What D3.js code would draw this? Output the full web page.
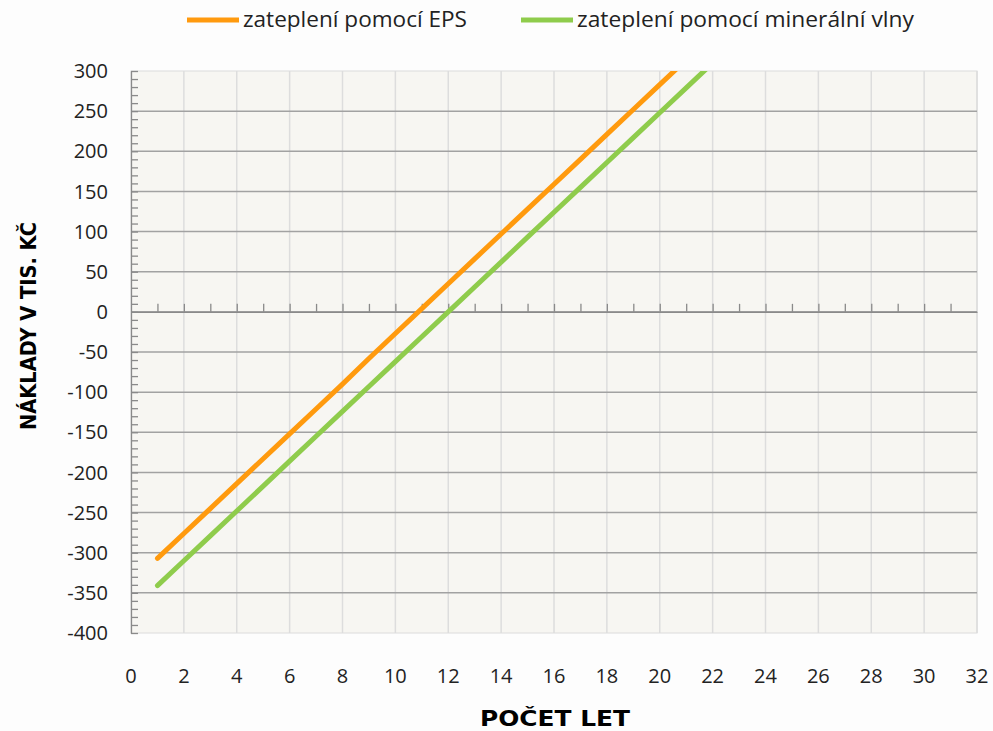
<!DOCTYPE html>
<html>
<head>
<meta charset="utf-8">
<script src="https://cdn.jsdelivr.net/npm/d3@7"></script>
<style>
  body { margin: 0; background: #fdfdfd; }
  svg { display: block; }
</style>
</head>
<body>
<svg id="chart" width="993" height="731"></svg>
<script>
// years 1..n
var years = [1, 2, 3, 4, 5, 6, 7, 8, 9, 10, 11, 12, 13, 14, 15, 16, 17, 18, 19, 20, 21, 22];
var epsValues = [-307, -276, -245, -214, -183, -152, -121, -90, -58, -27, 4, 35, 66, 97, 128, 159, 190, 221, 252, 283, 314, 345];
var mineralValues = [-341, -310, -279, -248, -217, -186, -155, -124, -93, -62, -31, 0, 31, 62, 93, 124, 155, 186, 217, 248, 279, 310];
var seriesNames = ["zateplení pomocí EPS", "zateplení pomocí minerální vlny"];
var seriesColors = ["#ff9a0e", "#8fcc4c"];
var yTicks = [300, 250, 200, 150, 100, 50, 0, -50, -100, -150, -200, -250, -300, -350, -400];
var xTicks = [0, 2, 4, 6, 8, 10, 12, 14, 16, 18, 20, 22, 24, 26, 28, 30, 32];

var svg = d3.select("#chart");
var plotLeft = 131, plotRight = 977, plotTop = 71, plotBottom = 633;

var x = d3.scaleLinear().domain([0, 32]).range([plotLeft, plotRight]);
var y = d3.scaleLinear().domain([-400, 300]).range([plotBottom, plotTop]);

// plot background
svg.append("rect")
	.attr("x", plotLeft).attr("y", plotTop)
	.attr("width", plotRight - plotLeft).attr("height", plotBottom - plotTop)
	.attr("fill", "#f7f6f2")
	.attr("stroke", "#dcdcdc");

// vertical grid
svg.append("g").selectAll("line")
	.data(xTicks.slice(1))
	.enter().append("line")
	.attr("x1", function(d) { return x(d); }).attr("x2", function(d) { return x(d); })
	.attr("y1", plotTop).attr("y2", plotBottom)
	.attr("stroke", "#dddddd").attr("stroke-width", 1.5);

// horizontal grid
svg.append("g").selectAll("line")
	.data(yTicks.filter(function(d) { return d != 300 && d != -400; }))
	.enter().append("line")
	.attr("x1", plotLeft).attr("x2", plotRight)
	.attr("y1", function(d) { return y(d); }).attr("y2", function(d) { return y(d); })
	.attr("stroke", "#a2a2a2").attr("stroke-width", 1.5);

// y axis with minor ticks on the right
var yAxis = d3.axisRight(y)
	.tickValues(d3.range(-400, 301, 10))
	.tickSize(7)
	.tickSizeOuter(0)
	.tickFormat("");
var gy = svg.append("g").attr("transform", "translate(" + plotLeft + ",0)").call(yAxis);
gy.selectAll("line, path").attr("stroke", "#8a8a8a").attr("stroke-width", 1.3);

// x axis at zero, ticks pointing up
var xAxis = d3.axisTop(x)
	.tickValues(d3.range(1, 32, 1))
	.tickSize(8)
	.tickSizeOuter(0)
	.tickFormat("");
var gx = svg.append("g").attr("transform", "translate(0," + y(0) + ")").call(xAxis);
gx.selectAll("line, path").attr("stroke", "#8a8a8a").attr("stroke-width", 1.3);

// tick labels
svg.append("g").selectAll("text")
	.data(yTicks)
	.enter().append("text")
	.attr("x", 108).attr("y", function(d) { return y(d); })
	.attr("dy", "0.36em")
	.attr("text-anchor", "end")
	.attr("font-family", "Open Sans")
	.attr("font-size", 20)
	.attr("fill", "#222")
	.text(function(d) { return d; });

svg.append("g").selectAll("text")
	.data(xTicks)
	.enter().append("text")
	.attr("x", function(d) { return x(d); }).attr("y", 676)
	.attr("dy", "0.36em")
	.attr("text-anchor", "middle")
	.attr("font-family", "Open Sans")
	.attr("font-size", 20)
	.attr("fill", "#222")
	.text(function(d) { return d; });

// lines
svg.append("clipPath").attr("id", "plotclip")
	.append("rect").attr("x", plotLeft).attr("y", plotTop)
	.attr("width", plotRight - plotLeft).attr("height", plotBottom - plotTop);

var line = d3.line()
	.x(function(d) { return x(d[0]); })
	.y(function(d) { return y(d[1]); });

[epsValues, mineralValues].forEach(function(vals, i) {
	svg.append("path")
		.datum(years.map(function(yr, j) { return [yr, vals[j]]; }))
		.attr("clip-path", "url(#plotclip)")
		.attr("d", line)
		.attr("fill", "none")
		.attr("stroke", seriesColors[i])
		.attr("stroke-width", 5)
		.attr("stroke-linecap", "round")
		.attr("stroke-linejoin", "round");
});

// legend
var legendX = [187, 521];
var legendTextLen = [224, 337];
seriesNames.forEach(function(name, i) {
	var g = svg.append("g").attr("transform", "translate(" + legendX[i] + ",20)");
	g.append("line").attr("x1", 0).attr("x2", 52)
		.attr("stroke", seriesColors[i]).attr("stroke-width", 5);
	g.append("text").attr("x", 56).attr("dy", "0.35em")
		.attr("font-family", "Open Sans")
		.attr("font-size", 21)
		.attr("fill", "#222")
		.attr("textLength", legendTextLen[i])
		.attr("lengthAdjust", "spacingAndGlyphs")
		.text(name);
});

// axis titles
svg.append("text")
	.attr("x", 555).attr("y", 726)
	.attr("text-anchor", "middle")
	.attr("font-family", "DejaVu Sans")
	.attr("font-weight", "bold")
	.attr("font-size", 21)
	.attr("textLength", 150)
	.attr("lengthAdjust", "spacingAndGlyphs")
	.text("POČET LET");

svg.append("text")
	.attr("transform", "translate(36,326) rotate(-90)")
	.attr("text-anchor", "middle")
	.attr("font-family", "DejaVu Sans")
	.attr("font-weight", "bold")
	.attr("font-size", 21)
	.attr("textLength", 208)
	.attr("lengthAdjust", "spacingAndGlyphs")
	.text("NÁKLADY V TIS. KČ");
</script>
</body>
</html>
